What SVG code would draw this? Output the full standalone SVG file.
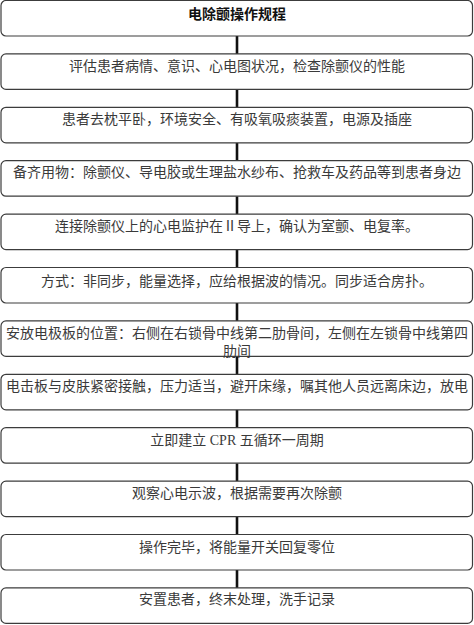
<svg xmlns="http://www.w3.org/2000/svg" width="474" height="625" viewBox="0 0 474 625">
<style>
.box{fill:#fff;stroke:#3c3c3c;stroke-width:1.2}
.t{font-family:"Liberation Serif","Noto Sans CJK SC",serif;font-size:14px;fill:#3a3a3a;text-anchor:middle}
.h{font-family:"Noto Sans CJK SC",sans-serif;font-size:14px;font-weight:bold;fill:#111;text-anchor:middle}
.c{stroke:#111;stroke-width:2.6}
</style>
<rect width="474" height="625" fill="#fff"/>
<g id="connectors">
<line class="c" x1="237" y1="36" x2="237" y2="53.9"/>
<line class="c" x1="237" y1="89.4" x2="237" y2="107.3"/>
<line class="c" x1="237" y1="142.8" x2="237" y2="160.7"/>
<line class="c" x1="237" y1="196.2" x2="237" y2="214.1"/>
<line class="c" x1="237" y1="249.6" x2="237" y2="267.5"/>
<line class="c" x1="237" y1="303" x2="237" y2="320.9"/>
<line class="c" x1="237" y1="356.4" x2="237" y2="374.3"/>
<line class="c" x1="237" y1="409.8" x2="237" y2="427.7"/>
<line class="c" x1="237" y1="463.2" x2="237" y2="481.1"/>
<line class="c" x1="237" y1="516.6" x2="237" y2="534.5"/>
<line class="c" x1="237" y1="570" x2="237" y2="587.9"/>
</g>
<g id="n1"><rect class="box" x="1" y="0.5" width="471.5" height="35.5" rx="5"/><text class="h" x="237" y="18.5">电除颤操作规程</text></g>
<g id="n2"><rect class="box" x="1" y="53.9" width="471.5" height="35.5" rx="5"/><text class="t" x="237" y="70.5">评估患者病情、意识、心电图状况，检查除颤仪的性能</text></g>
<g id="n3"><rect class="box" x="1" y="107.3" width="471.5" height="35.5" rx="5"/><text class="t" x="237" y="123.5">患者去枕平卧，环境安全、有吸氧吸痰装置，电源及插座</text></g>
<g id="n4"><rect class="box" x="1" y="160.7" width="471.5" height="35.5" rx="5"/><text class="t" x="237" y="177">备齐用物：除颤仪、导电胶或生理盐水纱布、抢救车及药品等到患者身边</text></g>
<g id="n5"><rect class="box" x="1" y="214.1" width="471.5" height="35.5" rx="5"/><text class="t" x="237" y="230.5">连接除颤仪上的心电监护在Ⅱ导上，确认为室颤、电复率。</text></g>
<g id="n6"><rect class="box" x="1" y="267.5" width="471.5" height="35.5" rx="5"/><text class="t" x="237" y="286">方式：非同步，能量选择，应给根据波的情况。同步适合房扑。</text></g>
<g id="n7"><rect class="box" x="1" y="320.9" width="471.5" height="35.5" rx="5"/><text class="t" x="237" y="338">安放电极板的位置：右侧在右锁骨中线第二肋骨间，左侧在左锁骨中线第四</text><text class="t" x="237" y="356">肋间</text></g>
<g id="n8"><rect class="box" x="1" y="374.3" width="471.5" height="35.5" rx="5"/><text class="t" x="237" y="391">电击板与皮肤紧密接触，压力适当，避开床缘，嘱其他人员远离床边，放电</text></g>
<g id="n9"><rect class="box" x="1" y="427.7" width="471.5" height="35.5" rx="5"/><text class="t" x="237" y="444.5">立即建立 CPR 五循环一周期</text></g>
<g id="n10"><rect class="box" x="1" y="481.1" width="471.5" height="35.5" rx="5"/><text class="t" x="237" y="498">观察心电示波，根据需要再次除颤</text></g>
<g id="n11"><rect class="box" x="1" y="534.5" width="471.5" height="35.5" rx="5"/><text class="t" x="237" y="552">操作完毕，将能量开关回复零位</text></g>
<g id="n12"><rect class="box" x="1" y="587.9" width="471.5" height="35.5" rx="5"/><text class="t" x="237" y="604">安置患者，终末处理，洗手记录</text></g>
</svg>
